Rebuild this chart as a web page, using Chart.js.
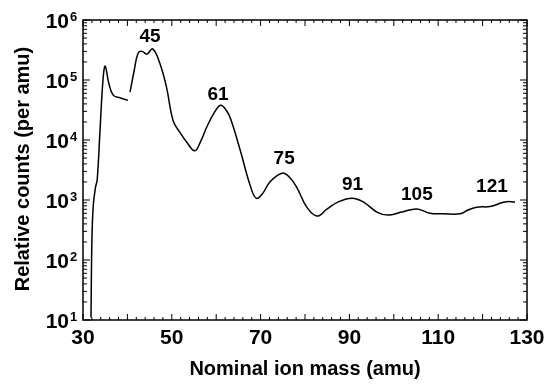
<!DOCTYPE html>
<html>
<head>
<meta charset="utf-8">
<script src="https://cdn.jsdelivr.net/npm/chart.js@4.4.1/dist/chart.umd.min.js"></script>
<style>
  html, body { margin: 0; padding: 0; background: #fff; }
  #wrap { width: 544px; height: 385px; }
</style>
</head>
<body>
<div id="wrap"><canvas id="chart" width="544" height="385"></canvas></div>
<script>
// Mass spectrum (null marks the small gap near 40 amu)
const ionMass = [31.8, 32.0, 32.3, 32.8, 33.2, 33.8, 34.5, 35.0, 35.8, 36.8, 38.5, 40.1, 40.35,
    40.6, 41.5, 42.4, 43.3, 44.4, 45.7, 47.3, 48.8, 50.3, 51.8, 53.5, 55.2, 56.5, 57.9, 59.5,
    61.0, 62.3, 63.3, 65.4, 67.6, 69.0, 70.5, 72.1, 74.8, 76.5, 78.2, 80.4, 82.7, 85.0, 87.5,
    90.6, 93.1, 96.2, 98.7, 101.8, 105.2, 108.2, 111.1, 114.9, 116.7, 118.7, 121.7, 125.0, 127.3];
const relCounts = [11, 200, 790, 1600, 2200, 1.3e4, 1.0e5, 1.7e5, 8.9e4, 5.6e4, 5.0e4, 4.6e4, null,
    6.3e4, 1.4e5, 2.8e5, 3.0e5, 2.7e5, 3.3e5, 1.9e5, 7.6e4, 2.1e4, 1.35e4, 8.9e3, 6.6e3, 9.5e3, 1.66e4, 2.8e4,
    3.8e4, 3.1e4, 2.2e4, 6.8e3, 1.8e3, 1070, 1300, 2000, 2800, 2400, 1600, 760, 540, 710, 930,
    1070, 930, 630, 560, 630, 710, 600, 590, 590, 680, 760, 780, 930, 930];

// Peak annotations and where they sit (mass, counts)
const peakLabels = ['45', '61', '75', '91', '105', '121'];
const peakLabelMass = [45.1, 60.4, 75.3, 90.7, 105.2, 122.1];
const peakLabelCounts = [5.2e5, 5.6e4, 4.8e3, 1.8e3, 1.2e3, 1.66e3];

// Axes
const xMin = 30, xMax = 130;
const xLabelTicks = [30, 50, 70, 90, 110, 130];
const yDecades = [1, 2, 3, 4, 5, 6];
const xTitle = 'Nominal ion mass (amu)';
const yTitle = 'Relative counts (per amu)';

const FONT = '"Liberation Sans", Arial, Helvetica, sans-serif';

const frame = {
    id: 'frame',
    afterDraw(chart) {
        const ctx = chart.ctx;
        const a = chart.chartArea;
        const xs = chart.scales.x, ys = chart.scales.y;
        ctx.save();
        ctx.strokeStyle = '#000';
        ctx.fillStyle = '#000';

        // box
        ctx.lineWidth = 1.5;
        ctx.strokeRect(a.left, a.top, a.right - a.left, a.bottom - a.top);

        // inward ticks
        ctx.lineWidth = 1;
        ctx.beginPath();
        for (let m = xMin; m <= xMax; m += 2) {
            const x = xs.getPixelForValue(m);
            const len = (m % 10 === 0) ? 6 : 3;
            ctx.moveTo(x, a.bottom); ctx.lineTo(x, a.bottom - len);
            ctx.moveTo(x, a.top); ctx.lineTo(x, a.top + len);
        }
        for (let e = 1; e <= 6; e++) {
            for (let k = 1; k <= 9; k++) {
                if (e === 6 && k > 1) break;
                const y = ys.getPixelForValue(k * Math.pow(10, e));
                const len = k === 1 ? 7 : 4;
                ctx.moveTo(a.left, y); ctx.lineTo(a.left + len, y);
                ctx.moveTo(a.right, y); ctx.lineTo(a.right - len, y);
            }
        }
        ctx.stroke();

        // y tick labels 10^n
        ctx.textBaseline = 'alphabetic';
        yDecades.forEach(e => {
            const y = ys.getPixelForValue(Math.pow(10, e));
            ctx.font = 'bold 21px ' + FONT;
            ctx.textAlign = 'right';
            ctx.fillText('10', 69, y + 8);
            ctx.font = 'bold 13px ' + FONT;
            ctx.textAlign = 'left';
            ctx.fillText(String(e), 70, y + 1);
        });

        // x tick labels
        ctx.font = 'bold 21px ' + FONT;
        ctx.textAlign = 'center';
        xLabelTicks.forEach(v => {
            ctx.fillText(String(v), xs.getPixelForValue(v), 344);
        });

        // peak labels
        ctx.font = 'bold 19px ' + FONT;
        ctx.textBaseline = 'middle';
        peakLabels.forEach((t, i) => {
            ctx.fillText(t, xs.getPixelForValue(peakLabelMass[i]), ys.getPixelForValue(peakLabelCounts[i]));
        });

        // axis titles
        ctx.font = 'bold 20px ' + FONT;
        ctx.fillText(xTitle, (a.left + a.right) / 2, 369);
        ctx.translate(23, 169);
        ctx.rotate(-Math.PI / 2);
        ctx.fillText(yTitle, 0, 0);
        ctx.restore();
    }
};

new Chart(document.getElementById('chart').getContext('2d'), {
    type: 'line',
    data: {
        labels: ionMass,
        datasets: [{
            data: ionMass.map((m, i) => ({ x: m, y: relCounts[i] })),
            borderColor: '#000',
            borderWidth: 1.5,
            pointRadius: 0,
            tension: 0.4,
            spanGaps: false,
            fill: false
        }]
    },
    options: {
        responsive: false,
        animation: false,
        layout: { padding: { top: 20, right: 17, left: 0, bottom: 0 } },
        plugins: { legend: { display: false }, tooltip: { enabled: false } },
        scales: {
            x: {
                type: 'linear',
                min: xMin,
                max: xMax,
                grid: { display: false },
                border: { display: false },
                ticks: { display: false },
                afterFit(scale) { scale.height = 65; }
            },
            y: {
                type: 'logarithmic',
                min: 10,
                max: 1e6,
                grid: { display: false },
                border: { display: false },
                ticks: { display: false },
                afterFit(scale) { scale.width = 83; }
            }
        }
    },
    plugins: [frame]
});
</script>
</body>
</html>
